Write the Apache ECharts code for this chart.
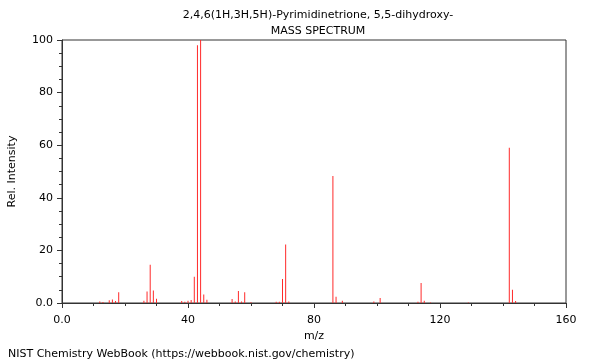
<!DOCTYPE html>
<html>
<head>
<meta charset="utf-8">
<script src="https://cdn.jsdelivr.net/npm/echarts@6/dist/echarts.min.js"></script>
<style>html,body{margin:0;padding:0;background:#fff}#c{width:600px;height:360px}</style>
</head>
<body>
<div id="c"></div>
<script>
var titleLines = ["2,4,6(1H,3H,5H)-Pyrimidinetrione, 5,5-dihydroxy-", "MASS SPECTRUM"];
var footer = "NIST Chemistry WebBook (https://webbook.nist.gov/chemistry)";
var xName = "m/z";
var yName = "Rel. Intensity";
var mz = [12, 13, 15, 16, 17, 18, 26, 27, 28, 29, 30, 38, 39, 40, 41, 42, 43, 44, 45, 46, 54, 55, 56, 57, 58, 60, 68, 69, 70, 71, 72, 86, 87, 89, 99, 101, 113, 114, 115, 117, 129, 142, 143, 144];
var intensity = [0.6, 0.4, 1.0, 1.3, 0.8, 4.1, 0.9, 4.4, 14.5, 4.8, 1.6, 0.8, 0.5, 0.9, 1.1, 10.0, 98, 100, 3.2, 1.2, 1.5, 0.6, 4.6, 0.6, 4.1, 0.3, 0.5, 0.5, 9.1, 22.2, 0.6, 48.3, 2.4, 0.9, 0.6, 1.9, 0.5, 7.6, 0.9, 0.2, 0.2, 59, 5.0, 0.8];

var data = mz.map(function (m, i) { return [m, intensity[i]]; });
var font = "DejaVu Sans";
var chart = echarts.init(document.getElementById('c'));
chart.setOption({
  animation: false,
  textStyle: { fontFamily: font },
  title: [
    { text: titleLines[0], left: 313, top: 5, textAlign: 'center', textStyle: { fontSize: 11, fontWeight: 'normal', color: '#000', fontFamily: font } },
    { text: titleLines[1], left: 313, top: 21, textAlign: 'center', textStyle: { fontSize: 11, fontWeight: 'normal', color: '#000', fontFamily: font } },
    { text: footer, left: 3, top: 344, textStyle: { fontSize: 11, fontWeight: 'normal', color: '#000', fontFamily: font } }
  ],
  grid: { left: 62, right: 34, top: 40, bottom: 57, containLabel: false, outerBoundsMode: 'none', show: true, borderColor: '#333', borderWidth: 1 },
  xAxis: {
    type: 'value', min: 0, max: 160, interval: 40,
    name: xName, nameLocation: 'middle', nameGap: 27,
    nameTextStyle: { fontSize: 11, color: '#000', fontFamily: font },
    axisLine: { lineStyle: { color: '#333' } },
    axisTick: { length: 5, lineStyle: { color: '#333' } },
    minorTick: { show: true, splitNumber: 4, length: 3, lineStyle: { color: '#333' } },
    splitLine: { show: false },
    axisLabel: { fontSize: 11, color: '#000', margin: 12, formatter: function (v) { return v === 0 ? '0.0' : String(v); } }
  },
  yAxis: {
    type: 'value', min: 0, max: 100, interval: 20,
    name: yName, nameLocation: 'middle', nameGap: 44,
    nameTextStyle: { fontSize: 11, color: '#000', fontFamily: font },
    axisLine: { show: true, lineStyle: { color: '#333' } },
    axisTick: { show: true, length: 5, lineStyle: { color: '#333' } },
    minorTick: { show: true, splitNumber: 4, length: 3, lineStyle: { color: '#333' } },
    splitLine: { show: false },
    axisLabel: { fontSize: 11, color: '#000', margin: 9, formatter: function (v) { return v === 0 ? '0.0' : String(v); } }
  },
  series: [{
    type: 'bar', data: data, barWidth: 1, barGap: '-100%',
    itemStyle: { color: '#ff2a2a' },
    emphasis: { disabled: true }
  }]
});
</script>
</body>
</html>
